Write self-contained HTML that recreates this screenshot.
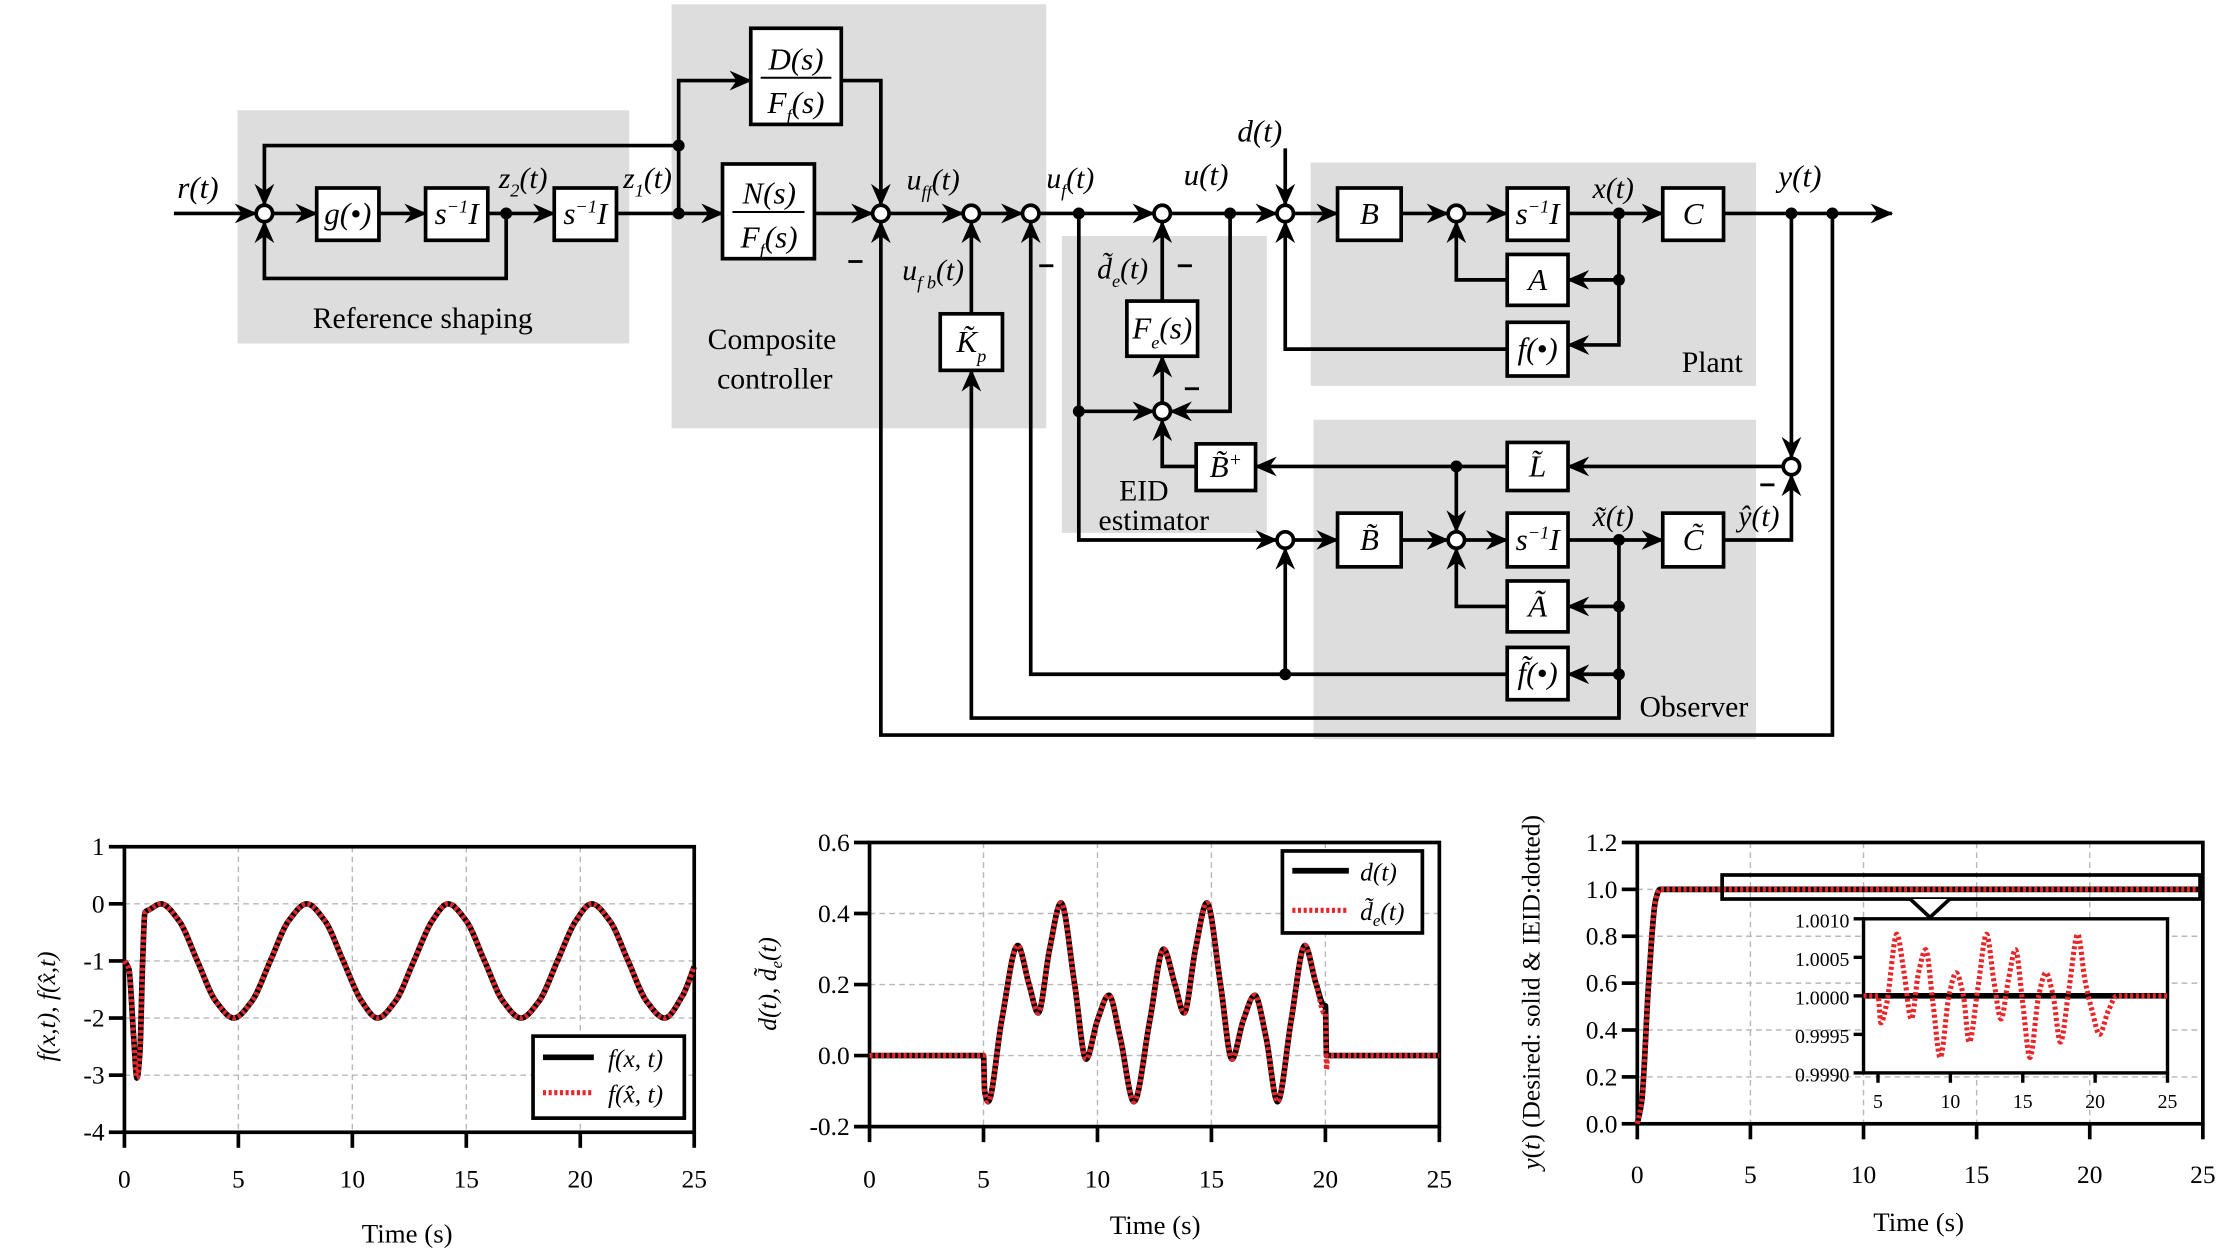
<!DOCTYPE html>
<html><head><meta charset="utf-8"><title>Control diagram and simulation results</title>
<style>
html,body{margin:0;padding:0;background:#fff;}
svg{display:block;}
text{font-family:"Liberation Serif",serif;fill:#000;}
.it{font-style:italic;}
</style></head>
<body>
<svg id="root" xmlns="http://www.w3.org/2000/svg" width="2217" height="1251" viewBox="0 0 1568 885" preserveAspectRatio="none">
<defs>
<marker id="ah" markerUnits="userSpaceOnUse" markerWidth="18" markerHeight="14" refX="15" refY="7" orient="auto">
<path d="M0,0 L16,7 L0,14 L5,7 Z" fill="#000"/>
</marker>
</defs>
<g id="diagram"></g>
<g id="charts"></g>
</svg>
<script>
// ---------------- Chart data ----------------
var c1Time = [0,0.2,0.4,0.55,0.68,0.8,0.9,1.1,1.6,2.4,3.2,4.0,4.8,5.6,6.4,7.2,8.0,8.8,9.6,10.4,11.1,11.9,12.7,13.5,14.2,15.0,15.8,16.6,17.4,18.2,19.0,19.8,20.5,21.3,22.1,22.9,23.7,24.5,25];
var c1Actual = [-1,-1.15,-2.3,-3.05,-2.6,-1.0,-0.15,-0.1,0,-0.3,-1.0,-1.7,-2,-1.7,-1.0,-0.3,0,-0.3,-1.0,-1.7,-2,-1.7,-1.0,-0.3,0,-0.3,-1.0,-1.7,-2,-1.7,-1.0,-0.3,0,-0.3,-1.0,-1.7,-2,-1.6,-1.1];
var c1Estimate = [-1,-1.15,-2.3,-3.05,-2.6,-1.0,-0.15,-0.1,0,-0.3,-1.0,-1.7,-2,-1.7,-1.0,-0.3,0,-0.3,-1.0,-1.7,-2,-1.7,-1.0,-0.3,0,-0.3,-1.0,-1.7,-2,-1.7,-1.0,-0.3,0,-0.3,-1.0,-1.7,-2,-1.6,-1.1];
var c1YTicks = [1,0,-1,-2,-3,-4];
var c1YLabels = ["1","0","-1","-2","-3","-4"];
var xTicks = [0,5,10,15,20,25];
var xLabels = ["0","5","10","15","20","25"];
var c2Time = [0,5,5.05,5.2,5.8,6.5,7.0,7.4,7.9,8.4,9.0,9.5,10.0,10.5,11.0,11.6,12.3,12.9,13.4,13.8,14.3,14.8,15.4,15.9,16.4,16.9,17.4,17.9,18.5,19.1,19.6,19.95,20.0,20.05,20.1,25];
var c2Actual = [0,0,-0.1,-0.13,0.1,0.31,0.2,0.12,0.3,0.43,0.2,-0.01,0.1,0.17,0.05,-0.13,0.1,0.30,0.2,0.12,0.3,0.43,0.2,-0.01,0.1,0.17,0.05,-0.13,0.1,0.31,0.2,0.14,0.14,0,0,0];
var c2Estimate = [0,0,-0.1,-0.13,0.1,0.31,0.2,0.12,0.3,0.43,0.2,-0.01,0.1,0.17,0.05,-0.13,0.1,0.30,0.2,0.12,0.3,0.43,0.2,-0.01,0.1,0.17,0.05,-0.13,0.1,0.31,0.2,0.12,0.12,-0.04,0,0];
var c2YTicks = [0.6,0.4,0.2,0.0,-0.2];
var c2YLabels = ["0.6","0.4","0.2","0.0","-0.2"];
var c3Time = [0,0.2,0.5,0.8,1.0,25];
var c3Desired = [0,0.1,0.6,0.95,1.0,1.0];
var c3Ieid = [0,0.1,0.6,0.95,1.0,1.0];
var c3YTicks = [1.2,1.0,0.8,0.6,0.4,0.2,0.0];
var c3YLabels = ["1.2","1.0","0.8","0.6","0.4","0.2","0.0"];
var inTime = [4,5,5.2,5.6,6.3,6.8,7.3,7.8,8.3,8.8,9.3,9.9,10.4,10.9,11.3,11.9,12.5,13.0,13.5,14.0,14.5,15.0,15.5,16.1,16.6,17.1,17.6,18.2,18.8,19.3,19.8,20.3,20.9,21.5,25];
var inDev = [0,0,-3.5,-1,8,3,-3,3,6,-1,-8,0,3,0,-6,1,8,2,-3,2,6,-1,-8,0,3,0,-6,1,8,2,-2,-5,-2,0,0];
var inYTicks = [10,5,0,-5,-10];
var inYLabels = ["1.0010","1.0005","1.0000","0.9995","0.9990"];
var inXTicks = [5,10,15,20,25];
var inXLabels = ["5","10","15","20","25"];

var NS="http://www.w3.org/2000/svg";
function el(tag, attrs, parent){var e=document.createElementNS(NS,tag);for(var k in attrs)e.setAttribute(k,attrs[k]);parent.appendChild(e);return e;}
function txt(parent,x,y,s,size,anchor,cls){var t=el('text',{x:x,y:y,'font-size':size,'text-anchor':anchor||'middle'},parent);if(cls)t.setAttribute('class',cls);t.innerHTML=s;return t;}

var D=document.getElementById('diagram');
function rect(x,y,w,h,fill,name){var r=el('rect',{x:x,y:y,width:w,height:h,fill:fill},D);return r;}
rect(168,78,277,165,'#dcdddc','reference-shaping-region');
rect(475,3,265,300,'#dcdddc','composite-controller-region');
rect(751,167,145,210,'#dcdddc','eid-estimator-region');
rect(927,115,315,158,'#dcdddc','plant-region');
rect(929,297,313,226,'#dcdddc','observer-region');

function wire(pts,arrow,name){var d='M'+pts.map(function(p){return p[0]+','+p[1];}).join(' L');var p=el('path',{d:d,fill:'none',stroke:'#000','stroke-width':2.6,'stroke-linejoin':'miter'},D);if(arrow)p.setAttribute('marker-end','url(#ah)');}
function dot(x,y){var c=el('circle',{cx:x,cy:y,r:4.2,fill:'#000'},D);}
function sum(x,y,name){var c=el('circle',{cx:x,cy:y,r:5.8,fill:'#fff',stroke:'#000','stroke-width':2.6},D);}
function block(x,y,w,h,label,name,size){var g=el('g',{},D);el('rect',{x:x,y:y,width:w,height:h,fill:'#fff',stroke:'#000','stroke-width':2.6},g);txt(g,x+w/2,y+h/2+7,label,size||22,'middle','it');return g;}

wire([[123,151],[181,151]],1,'r-input');
wire([[193,151],[224,151]],1,'w');
wire([[268,151],[301,151]],1,'w');
wire([[345,151],[392,151]],1,'w');
wire([[358,151],[358,197],[187,197],[187,157]],1,'z2-feedback');
wire([[436,151],[511,151]],1,'z1-line');
wire([[480,151],[480,103],[187,103],[187,145]],1,'z1-feedback');
wire([[480,103],[480,57],[531,57]],1,'w');
wire([[595,57],[623,57],[623,145]],1,'w');
wire([[576,151],[617,151]],1,'w');
wire([[629,151],[681,151]],1,'w');
wire([[693,151],[723,151]],1,'w');
wire([[735,151],[816,151]],1,'w');
wire([[828,151],[903,151]],1,'w');
wire([[909,105],[909,145]],1,'disturbance-input');
wire([[915,151],[946,151]],1,'w');
wire([[991,151],[1024,151]],1,'w');
wire([[1036,151],[1066,151]],1,'w');
wire([[1109,151],[1176,151]],1,'w');
wire([[1219,151],[1338,151]],1,'y-output');
wire([[1145,151],[1145,244],[1109,244]],1,'w');
wire([[1145,198],[1109,198]],1,'w');
wire([[1066,198],[1030,198],[1030,157]],1,'w');
wire([[1066,247],[909,247],[909,157]],1,'w');
wire([[687,222],[687,157]],1,'w');
wire([[1145,477],[1145,508],[687,508],[687,262]],1,'w');
wire([[1066,477],[729,477],[729,157]],1,'w');
wire([[909,477],[909,388]],1,'w');
wire([[822,213],[822,157]],1,'w');
wire([[822,285],[822,252]],1,'w');
wire([[763,151],[763,382],[903,382]],1,'w');
wire([[763,291],[816,291]],1,'w');
wire([[870,151],[870,291],[828,291]],1,'w');
wire([[846,330],[822,330],[822,297]],1,'w');
wire([[1261,330],[1109,330]],1,'w');
wire([[1066,330],[888,330]],1,'w');
wire([[1030,330],[1030,376]],1,'w');
wire([[1267,151],[1267,324]],1,'w');
wire([[915,382],[946,382]],1,'w');
wire([[991,382],[1024,382]],1,'w');
wire([[1036,382],[1066,382]],1,'w');
wire([[1109,382],[1176,382]],1,'w');
wire([[1219,382],[1267,382],[1267,336]],1,'w');
wire([[1145,382],[1145,508]],0,'w');
wire([[1145,429],[1109,429]],1,'w');
wire([[1145,477],[1109,477]],1,'w');
wire([[1066,429],[1030,429],[1030,388]],1,'w');
wire([[1296,151],[1296,520],[623,520],[623,157]],1,'y-feedback');

[[358,151],[480,151],[480,103],[763,151],[870,151],[1145,151],[1145,198],[1267,151],[1296,151],[763,291],[1030,330],[1145,382],[1145,429],[1145,477],[909,477]].forEach(function(p){dot(p[0],p[1]);});
sum(187,151,'sum-reference');sum(623,151,'sum-feedforward');sum(687,151,'sum-feedback');sum(729,151,'sum-uf');sum(822,151,'sum-u');sum(909,151,'sum-plant-input');sum(1030,151,'sum-plant-state');sum(822,291,'sum-eid');sum(1267,330,'sum-output-error');sum(909,382,'sum-observer-input');sum(1030,382,'sum-observer-state');

block(224,133,44,37,'g(&#8226;)','g-block');
block(301,133,44,37,'s<tspan font-size="13" dy="-8">&#8722;1</tspan><tspan dy="8">I</tspan>','integrator-1');
block(392,133,44,37,'s<tspan font-size="13" dy="-8">&#8722;1</tspan><tspan dy="8">I</tspan>','integrator-2');
(function(){var g=el('g',{},D);
el('rect',{x:531,y:20,width:64,height:68,fill:'#fff',stroke:'#000','stroke-width':2.6},g);
txt(g,563,49,'D(s)',22,'middle','it');el('line',{x1:538,y1:55,x2:588,y2:55,stroke:'#000','stroke-width':1.4},g);
txt(g,563,80,'F<tspan font-size="13" dy="6">f</tspan><tspan dy="-6">(s)</tspan>',22,'middle','it');
var h=el('g',{},D);
el('rect',{x:511,y:116,width:65,height:67,fill:'#fff',stroke:'#000','stroke-width':2.6},h);
txt(h,544,144,'N(s)',22,'middle','it');el('line',{x1:518,y1:150,x2:569,y2:150,stroke:'#000','stroke-width':1.4},h);
txt(h,544,175,'F<tspan font-size="13" dy="6">f</tspan><tspan dy="-6">(s)</tspan>',22,'middle','it');})();
block(665,222,44,40,'K&#771;<tspan font-size="13" dy="7">p</tspan>','kp-block');
block(797,213,50,39,'F<tspan font-size="13" dy="7">e</tspan><tspan dy="-7">(s)</tspan>','fe-block');
block(846,314,42,33,'B&#771;<tspan font-size="14" dy="-8">+</tspan>','b-plus-block');
block(946,133,45,37,'B','b-block');
block(1066,133,43,37,'s<tspan font-size="13" dy="-8">&#8722;1</tspan><tspan dy="8">I</tspan>','plant-integrator');
block(1176,133,43,37,'C','c-block');
block(1066,180,43,36,'A','a-block');
block(1066,228,43,38,'f(&#8226;)','f-block');
block(1066,313,43,34,'L&#771;','l-block');
block(946,363,45,38,'B&#771;','b-tilde-block');
block(1066,363,43,38,'s<tspan font-size="13" dy="-8">&#8722;1</tspan><tspan dy="8">I</tspan>','observer-integrator');
block(1176,363,43,38,'C&#771;','c-tilde-block');
block(1066,411,43,36,'A&#771;','a-tilde-block');
block(1066,458,43,37,'f&#771;(&#8226;)','f-tilde-block');

function lab(x,y,s,size,cls,name){var t=txt(D,x,y,s,size,'middle',cls);}
lab(140,140,'r(t)',22,'it','r-label');
lab(370,133,'z<tspan font-size="13" dy="6">2</tspan><tspan dy="-6">(t)</tspan>',21,'it','z2-label');
lab(458,133,'z<tspan font-size="13" dy="6">1</tspan><tspan dy="-6">(t)</tspan>',21,'it','z1-label');
lab(660,134,'u<tspan font-size="13" dy="6">ff</tspan><tspan dy="-6">(t)</tspan>',21,'it','uff-label');
lab(660,198,'u<tspan font-size="13" dy="6">f b</tspan><tspan dy="-6">(t)</tspan>',21,'it','ufb-label');
lab(757,133,'u<tspan font-size="13" dy="6">f</tspan><tspan dy="-6">(t)</tspan>',21,'it','uf-label');
lab(853,131,'u(t)',22,'it','u-label');
lab(891,100,'d(t)',22,'it','d-label');
lab(794,197,'d&#771;<tspan font-size="13" dy="6">e</tspan><tspan dy="-6">(t)</tspan>',21,'it','de-label');
lab(1141,140,'x(t)',21,'it','x-label');
lab(1273,132,'y(t)',22,'it','y-label');
lab(1141,372,'x&#771;(t)',21,'it','x-tilde-label');
lab(1244,372,'y&#770;(t)',21,'it','y-hat-label');
lab(299,232,'Reference shaping',21,'','reference-shaping-title');
lab(546,247,'Composite',21,'','composite-title');
lab(548,275,'controller',21,'','controller-title');
lab(809,354,'EID',21,'','eid-title');
lab(816,375,'estimator',21,'','estimator-title');
lab(1211,263,'Plant',21,'','plant-title');
lab(1198,507,'Observer',21,'','observer-title');
[[605,185],[740,188],[838,188],[843,275],[1250,343]].forEach(function(p){var l=el('line',{x1:p[0]-5,y1:p[1],x2:p[0]+5,y2:p[1],stroke:'#000','stroke-width':2},D);});

var C=document.getElementById('charts');
function monoPath(xs,ys){var n=xs.length;var d=[],m=[];for(var i=0;i<n-1;i++){d.push((ys[i+1]-ys[i])/(xs[i+1]-xs[i]));}
for(var i=0;i<n;i++){if(i==0)m.push(d[0]);else if(i==n-1)m.push(d[n-2]);else{if(d[i-1]*d[i]<=0)m.push(0);else m.push(2/(1/d[i-1]+1/d[i]));}}
var s='M'+xs[0]+','+ys[0];for(var i=0;i<n-1;i++){var h=xs[i+1]-xs[i];s+=' C'+(xs[i]+h/3)+','+(ys[i]+m[i]*h/3)+' '+(xs[i+1]-h/3)+','+(ys[i+1]-m[i+1]*h/3)+' '+xs[i+1]+','+ys[i+1];}return s;}
function makeAxes(o){
 var g=el('g',{},C);
 var sx=function(v){return o.x0+(v-o.dx0)/(o.dx1-o.dx0)*(o.x1-o.x0);};
 var sy=function(v){return o.y1-(v-o.dy0)/(o.dy1-o.dy0)*(o.y1-o.y0);};
 o.sx=sx;o.sy=sy;o.g=g;
 (o.gridX||[]).forEach(function(v){var l=el('line',{x1:sx(v),y1:o.y0,x2:sx(v),y2:o.y1,stroke:'#b8b8b8','stroke-width':1,'stroke-dasharray':'4 3'},g);});
 (o.gridY||[]).forEach(function(v){var l=el('line',{x1:o.x0,y1:sy(v),x2:o.x1,y2:sy(v),stroke:'#b8b8b8','stroke-width':1,'stroke-dasharray':'4 3'},g);});
 var f=el('rect',{x:o.x0,y:o.y0,width:o.x1-o.x0,height:o.y1-o.y0,fill:'none',stroke:'#000','stroke-width':o.sw||2.6},g);
 o.yTicks.forEach(function(v,i){var l=el('line',{x1:o.x0-(o.tl||11),y1:sy(v),x2:o.x0,y2:sy(v),stroke:'#000','stroke-width':o.sw||2.6},g);
  var t=txt(g,o.x0-(o.tl||11)-3,sy(v)+6,o.yLabels[i],o.fs||18,'end');});
 o.xTicks.forEach(function(v,i){var l=el('line',{x1:sx(v),y1:o.y1,x2:sx(v),y2:o.y1+(o.tl||11),stroke:'#000','stroke-width':o.sw||2.6},g);
  var t=txt(g,sx(v),o.y1+(o.xly||39),o.xLabels[i],o.fs||18,'middle');});
 return o;}
function series(o,xs,ys,kind,name){var px=xs.map(o.sx),py=ys.map(o.sy);
 var p=el('path',{d:monoPath(px,py),fill:'none'},o.g);
 if(kind=='solid'){p.setAttribute('stroke','#000');p.setAttribute('stroke-width',4);}
 else{p.setAttribute('stroke','#e8262a');p.setAttribute('stroke-width',3.6);p.setAttribute('stroke-dasharray','2.2 1.8');}
 }

var a1=makeAxes({name:'chart-f',x0:88,x1:491,y0:599,y1:801,dx0:0,dx1:25,dy0:-4,dy1:1,yTicks:c1YTicks,yLabels:c1YLabels,xTicks:xTicks,xLabels:xLabels,gridX:[5,10,15,20],gridY:[0,-1,-2,-3]});
series(a1,c1Time,c1Actual,'solid','f-actual-line');
series(a1,c1Time,c1Estimate,'dot','f-estimate-line');
var t=txt(C,288,879,'Time (s)',19,'middle');
t=txt(C,0,0,'f(x,t), f(x&#770;,t)',18,'middle','it');t.setAttribute('transform','translate(39,712) rotate(-90)');
(function(){var g=el('g',{},C);
el('rect',{x:377,y:733,width:107,height:58,fill:'#fff',stroke:'#000','stroke-width':2.6},g);
el('line',{x1:384,y1:748,x2:420,y2:748,stroke:'#000','stroke-width':4},g);
el('line',{x1:384,y1:773,x2:420,y2:773,stroke:'#e8262a','stroke-width':3.6,'stroke-dasharray':'2.2 1.8'},g);
txt(g,430,755,'f(x, t)',18,'start','it');txt(g,430,780,'f(x&#770;, t)',18,'start','it');})();

var a2=makeAxes({name:'chart-disturbance',x0:615,x1:1018,y0:596,y1:797,dx0:0,dx1:25,dy0:-0.2,dy1:0.6,yTicks:c2YTicks,yLabels:c2YLabels,xTicks:xTicks,xLabels:xLabels,gridX:[5,10,15,20],gridY:[0.4,0.2,0.0],xly:43});
series(a2,c2Time,c2Actual,'solid','d-actual-line');
series(a2,c2Time,c2Estimate,'dot','d-estimate-line');
t=txt(C,817,873,'Time (s)',19,'middle');
t=txt(C,0,0,'d(t), d&#771;<tspan font-size="12" dy="4">e</tspan><tspan dy="-4">(t)</tspan>',18,'middle','it');t.setAttribute('transform','translate(549,696) rotate(-90)');
(function(){var g=el('g',{},C);
el('rect',{x:907,y:602,width:99,height:58,fill:'#fff',stroke:'#000','stroke-width':2.6},g);
el('line',{x1:914,y1:616,x2:954,y2:616,stroke:'#000','stroke-width':4},g);
el('line',{x1:914,y1:644,x2:954,y2:644,stroke:'#e8262a','stroke-width':3.6,'stroke-dasharray':'2.2 1.8'},g);
txt(g,962,623,'d(t)',18,'start','it');txt(g,962,651,'d&#771;<tspan font-size="12" dy="4">e</tspan><tspan dy="-4">(t)</tspan>',18,'start','it');})();

var a3=makeAxes({name:'chart-output',x0:1158,x1:1558,y0:596,y1:795,dx0:0,dx1:25,dy0:0,dy1:1.2,yTicks:c3YTicks,yLabels:c3YLabels,xTicks:xTicks,xLabels:xLabels,gridX:[5,10,15,20],gridY:[1.0,0.8,0.6,0.4,0.2],xly:42});
series(a3,c3Time,c3Desired,'solid','y-desired-line');
series(a3,c3Time,c3Ieid,'dot','y-ieid-line');
t=txt(C,1357,871,'Time (s)',19,'middle');
t=txt(C,0,0,'<tspan font-style="italic">y</tspan>(<tspan font-style="italic">t</tspan>) (Desired: solid &amp; IEID:dotted)',18,'middle');t.setAttribute('transform','translate(1089,702) rotate(-90)');
(function(){var g=el('g',{},C);
el('rect',{x:1218,y:619,width:338,height:17,fill:'none',stroke:'#000','stroke-width':2.6},g);
el('path',{d:'M1351,636 L1365,649 L1379,636',fill:'#fff',stroke:'#000','stroke-width':2.6},g);
el('rect',{x:1318,y:650,width:215,height:109,fill:'#fff',stroke:'none'},g);})();
var a4=makeAxes({name:'inset-chart',x0:1318,x1:1533,y0:650,y1:759,dx0:4,dx1:25,dy0:-10,dy1:10,yTicks:inYTicks,yLabels:inYLabels,xTicks:inXTicks,xLabels:inXLabels,tl:7,fs:14,xly:25,sw:2.4});
series(a4,[inTime[0],inTime[inTime.length-1]],[0,0],'solid','inset-desired-line');
series(a4,inTime,inDev,'dot','inset-ieid-line');
</script>
</body></html>
